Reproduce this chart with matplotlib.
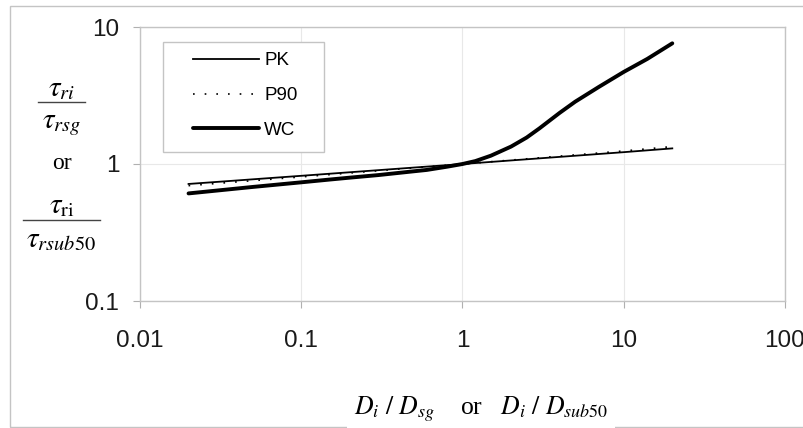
import matplotlib
matplotlib.use("Agg")
import matplotlib.pyplot as plt
from matplotlib.patches import Rectangle
from matplotlib.lines import Line2D
from matplotlib.ticker import FixedLocator, FixedFormatter, NullLocator

# -------------------------------
# Data
# -------------------------------
pk_x = [0.02, 0.1, 1, 10, 20]
pk_y = [0.715, 0.82, 1.0, 1.22, 1.30]

p90_x = [0.02, 0.1, 1, 10, 20]
p90_y = [0.695, 0.805, 1.0, 1.245, 1.34]

wc_x = [0.02, 0.03, 0.05, 0.1, 0.15, 0.2, 0.3, 0.5, 0.6, 0.8, 1.0,
        1.2, 1.5, 2, 2.5, 3, 4, 5, 7, 10, 14, 20]
wc_y = [0.61, 0.64, 0.68, 0.735, 0.77, 0.795, 0.83, 0.885, 0.905, 0.955, 1.0,
        1.05, 1.15, 1.34, 1.56, 1.82, 2.36, 2.85, 3.65, 4.7, 5.85, 7.6]

x_ticks = [0.01, 0.1, 1, 10, 100]
x_labels = ["0.01", "0.1", "1", "10", "100"]
y_ticks = [0.1, 1, 10]
y_labels = ["0.1", "1", "10"]

# -------------------------------
# Figure layout (pixel helpers)
# -------------------------------
W, H = 804, 428
def fx(px):
    return px / W
def fy(py):
    return 1 - py / H

plt.rcParams["mathtext.fontset"] = "stix"
plt.rcParams["font.family"] = ["Liberation Sans", "DejaVu Sans"]

fig = plt.figure(figsize=(W / 100, H / 100), dpi=100)
ax = fig.add_axes([fx(140), fy(301), fx(785) - fx(140), fy(27) - fy(301)])

ax.plot(pk_x, pk_y, color="black", lw=1.3, label="PK")
ax.plot(p90_x, p90_y, color="black", lw=1.2, ls=(0, (1, 6)), label="P90")
ax.plot(wc_x, wc_y, color="black", lw=2.8, label="WC", solid_capstyle="round")

ax.set_xscale("log")
ax.set_yscale("log")
ax.set_xlim(0.01, 100)
ax.set_ylim(0.1, 10)
ax.xaxis.set_major_locator(FixedLocator(x_ticks))
ax.xaxis.set_major_formatter(FixedFormatter(x_labels))
ax.yaxis.set_major_locator(FixedLocator(y_ticks))
ax.yaxis.set_major_formatter(FixedFormatter(y_labels))
ax.xaxis.set_minor_locator(NullLocator())
ax.yaxis.set_minor_locator(NullLocator())

ax.grid(True, color="#e8e8e8", lw=0.8)
ax.set_axisbelow(True)
for s in ax.spines.values():
    s.set_color("#c4c4c4")
    s.set_linewidth(1.0)
ax.tick_params(axis="both", which="major", direction="out", length=5,
               color="#b0b0b0", labelsize=17.5, labelcolor="#1a1a1a")
ax.tick_params(axis="x", pad=16)
ax.tick_params(axis="y", pad=10)

# legend: drawn frame plus frameless legend inside
box = Rectangle(((163 - 140) / 645, 1 - (152 - 27) / 274),
                (324 - 163) / 645, (152 - 42) / 274,
                transform=ax.transAxes, facecolor="white",
                edgecolor="#c4c4c4", lw=1.0, zorder=4)
ax.add_patch(box)
leg = ax.legend(loc="upper left", bbox_to_anchor=((193 - 140) / 645, 1 - (52 - 27) / 274),
                frameon=False, fontsize=13.5, borderpad=0, borderaxespad=0,
                handlelength=3.5, handletextpad=0.3, labelspacing=0.95)
leg.set_zorder(5)

# outer border of the chart
fig.add_artist(Rectangle((fx(10), fy(427)), 1.2, fy(6) - fy(427),
                         transform=fig.transFigure, facecolor="none",
                         edgecolor="#c4c4c4", lw=1.0, zorder=1))

# y label built from two stacked fractions
serif = ["Liberation Serif", "DejaVu Serif"]
fig.text(fx(62), fy(89), r"$\tau_{ri}$", ha="center", va="center", fontsize=21, family=serif)
fig.add_artist(Line2D([fx(38), fx(85)], [fy(102), fy(102)], color="#444444", lw=1.0))
fig.text(fx(62), fy(125), r"$\tau_{rsg}$", ha="center", va="center", fontsize=21, family=serif)
fig.text(fx(62), fy(164), "or", ha="center", va="center", fontsize=17, family=serif)
fig.text(fx(62), fy(206), r"$\tau_{\mathrm{ri}}$", ha="center", va="center", fontsize=21, family=serif)
fig.add_artist(Line2D([fx(23), fx(100)], [fy(220), fy(220)], color="#444444", lw=1.0))
fig.text(fx(61), fy(240), r"$\tau_{rsub\mathit{50}}$", ha="center", va="center", fontsize=21, family=serif)

# x label with white box over the outer border
fig.text(fx(481), fy(409), r"$D_i\ /\ D_{sg}$    or   $D_i\ /\ D_{sub\mathit{50}}$",
         ha="center", va="center", fontsize=18.5, family=serif, zorder=3,
         bbox=dict(facecolor="white", edgecolor="none", pad=5))

fig.savefig("out.png", dpi=100)
